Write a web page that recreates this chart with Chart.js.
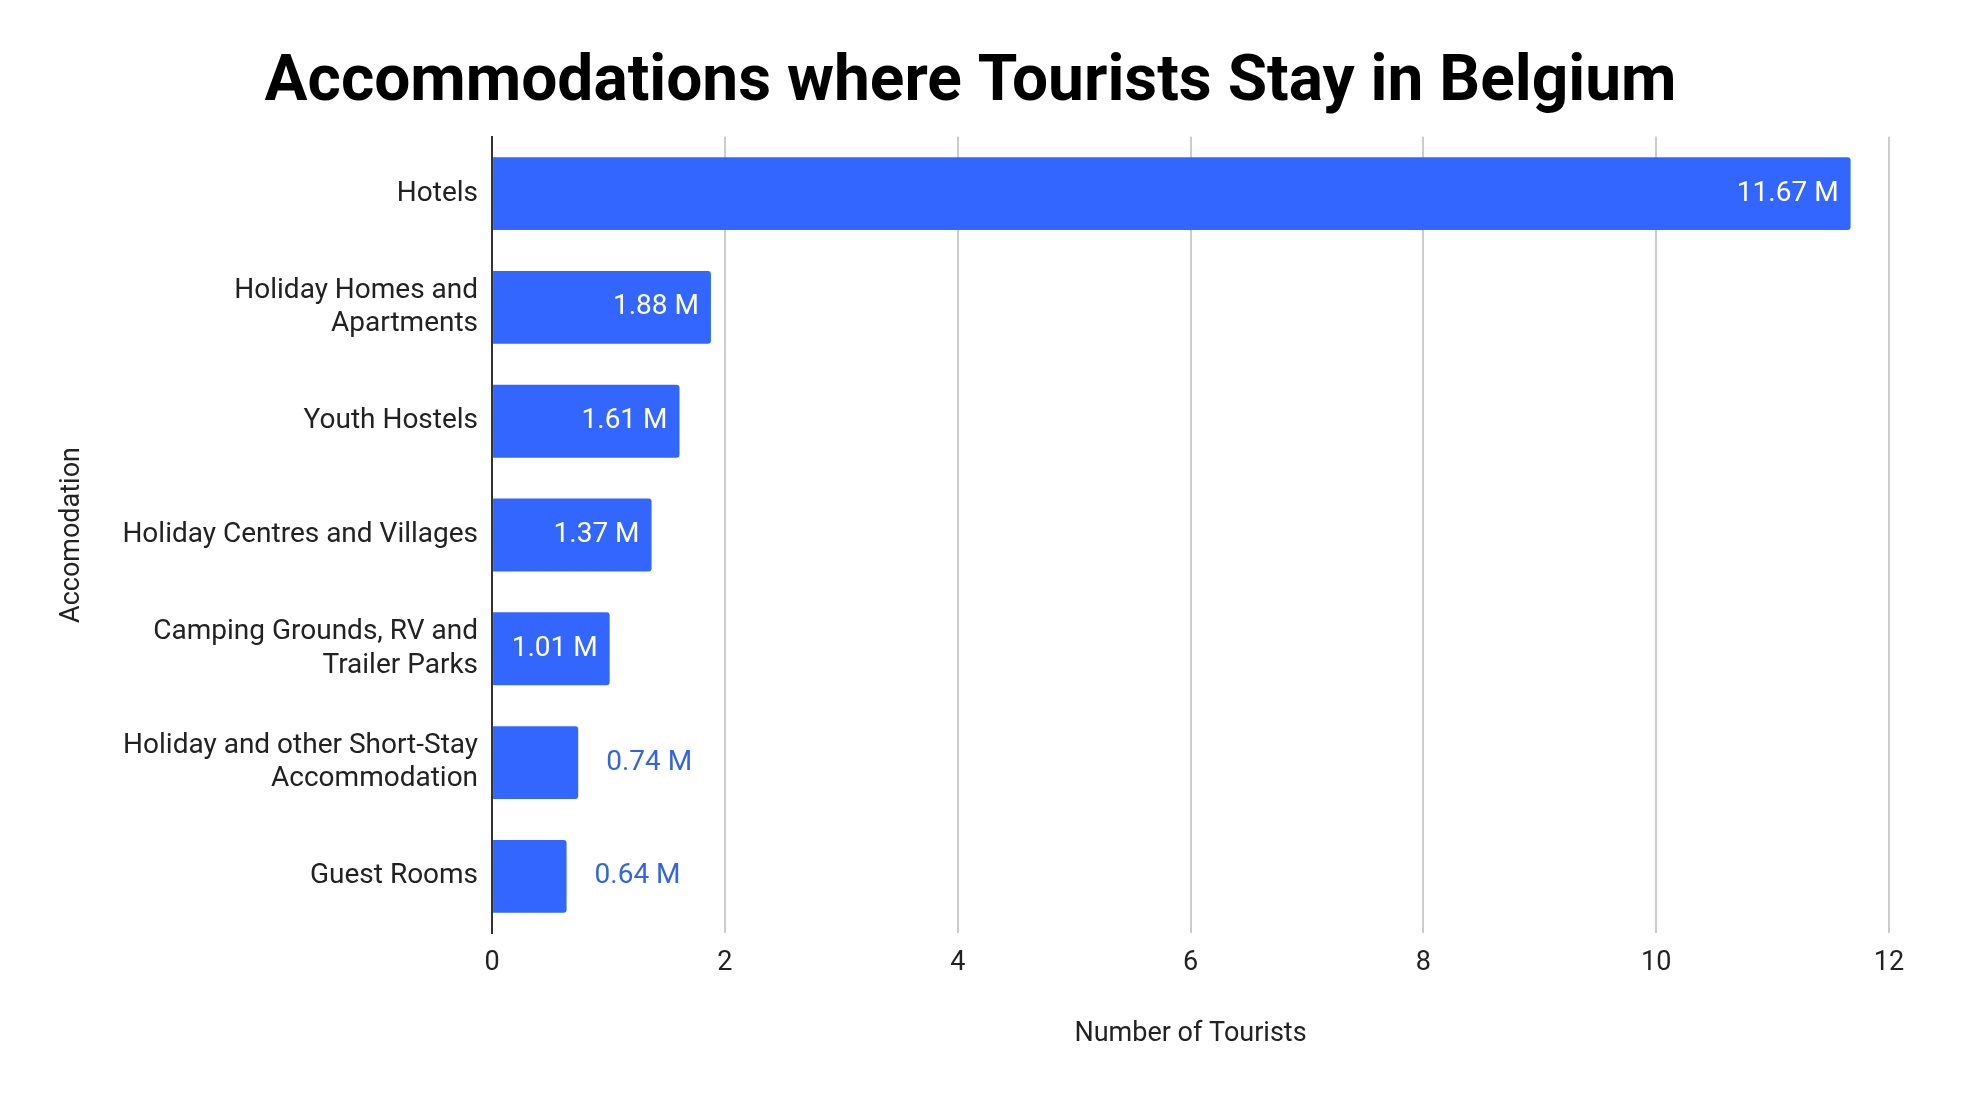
<!DOCTYPE html>
<html>
<head>
<meta charset="utf-8">
<script src="https://cdn.jsdelivr.net/npm/chart.js@4"></script>
<style>
  body { margin: 0; background: #fff; }
  canvas { display: block; }
</style>
</head>
<body>
<canvas id="chart" width="1982" height="1098"></canvas>
<script>
const categories = [
  'Hotels',
  ['Holiday Homes and', 'Apartments'],
  'Youth Hostels',
  'Holiday Centres and Villages',
  ['Camping Grounds, RV and', 'Trailer Parks'],
  ['Holiday and other Short-Stay', 'Accommodation'],
  'Guest Rooms'
];
const tourists = [11.67, 1.88, 1.61, 1.37, 1.01, 0.74, 0.64];
const xTicks = [0, 2, 4, 6, 8, 10, 12];

const barColor = '#3366ff';

// value labels: inside (white) for wide bars, outside (blue) for narrow ones
const valueLabels = {
  id: 'valueLabels',
  afterDatasetsDraw(chart) {
    const ctx = chart.ctx;
    const meta = chart.getDatasetMeta(0);
    ctx.save();
    ctx.font = '28px Roboto';
    ctx.textBaseline = 'middle';
    meta.data.forEach((bar, i) => {
      const text = tourists[i].toFixed(2) + ' M';
      const w = ctx.measureText(text).width;
      if (bar.x - bar.base > w + 30) {
        ctx.fillStyle = '#ffffff';
        ctx.textAlign = 'right';
        ctx.fillText(text, bar.x - 12, bar.y);
      } else {
        ctx.fillStyle = '#3366dd';
        ctx.textAlign = 'left';
        ctx.fillText(text, bar.x + 28, bar.y);
      }
    });
    ctx.restore();
  }
};

new Chart(document.getElementById('chart').getContext('2d'), {
  type: 'bar',
  data: {
    labels: categories,
    datasets: [{
      data: tourists,
      backgroundColor: barColor,
      borderRadius: 3,
      borderSkipped: 'start',
      categoryPercentage: 0.64,
      barPercentage: 1
    }]
  },
  options: {
    indexAxis: 'y',
    responsive: false,
    animation: false,
    layout: { padding: { top: 0, right: 93, bottom: 44, left: 52 } },
    plugins: {
      legend: { display: false },
      tooltip: { enabled: false },
      title: {
        display: true,
        text: 'Accommodations where Tourists Stay in Belgium',
        color: '#000',
        font: { family: 'Roboto', size: 64, weight: 'bold' },
        padding: { top: 46, bottom: 14 }
      }
    },
    scales: {
      x: {
        min: 0, max: 12,
        afterBuildTicks(axis) { axis.ticks = xTicks.map(v => ({ value: v })); },
        grid: { color: '#cccccc', lineWidth: 2, drawTicks: false },
        border: { display: false },
        ticks: { color: '#222', font: { family: 'Roboto', size: 27 }, padding: 14 },
        title: {
          display: true, text: 'Number of Tourists', color: '#222',
          font: { family: 'Roboto', size: 27 }, padding: { top: 24 }
        }
      },
      y: {
        grid: { display: false, drawTicks: false },
        border: { display: true, color: '#333', width: 2 },
        ticks: { color: '#222', font: { family: 'Roboto', size: 28 }, padding: 14 },
        title: {
          display: true, text: 'Accomodation', color: '#222',
          font: { family: 'Roboto', size: 27 }, padding: { bottom: 20 }
        }
      }
    }
  },
  plugins: [valueLabels]
});
</script>
</body>
</html>
